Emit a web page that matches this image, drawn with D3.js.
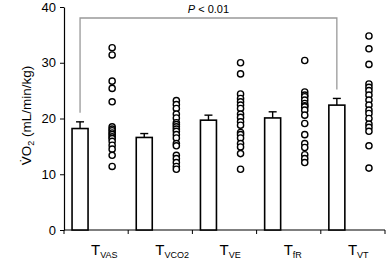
<!DOCTYPE html>
<html>
<head>
<meta charset="utf-8">
<script src="https://cdn.jsdelivr.net/npm/d3@7"></script>
<style>
  body { margin: 0; background: #fff; }
  svg { display: block; font-family: "Liberation Sans", Arial, sans-serif; }
</style>
</head>
<body>
<div id="chart"></div>
<script>
// Dữ liệu
const groups = ["VAS", "VCO2", "VE", "fR", "VT"];
const means  = [18.2, 16.6, 19.7, 20.1, 22.4];
const sems   = [1.2, 0.7, 0.9, 1.1, 1.2];
const points = [
  [32.7, 31.4, 26.7, 25.4, 23.0, 18.5, 18.1, 17.8, 17.4, 17.1, 16.7, 16.4, 15.9, 15.2, 14.5, 13.4, 11.4],
  [23.2, 22.5, 21.8, 20.8, 20.1, 19.25, 18.9, 18.5, 18.1, 17.7, 17.1, 16.5, 15.5, 15.1, 13.4, 12.8, 12.1, 11.4, 10.9],
  [30.0, 28.0, 24.4, 23.6, 23.0, 22.4, 21.8, 20.8, 20.2, 19.4, 18.8, 17.5, 17.1, 16.5, 15.5, 14.9, 13.7, 10.9],
  [30.4, 24.75, 24.2, 23.9, 23.3, 22.7, 22.3, 22.1, 21.5, 20.6, 19.1, 17.1, 15.5, 14.8, 13.5, 12.8, 12.1],
  [34.8, 32.5, 29.7, 26.2, 25.6, 25.0, 24.2, 23.3, 22.4, 21.5, 20.9, 20.0, 19.0, 18.4, 17.7, 15.1, 11.1]
];
const yTicks = [0, 10, 20, 30, 40];
const pLabel = "< 0.01";

// Kích thước
const W = 386, H = 262;
const margin = { top: 7, right: 1, bottom: 32, left: 64 };
const width = W - margin.left - margin.right,
      height = H - margin.top - margin.bottom;

const svg = d3.select("#chart").append("svg")
    .attr("width", W).attr("height", H)
  .append("g")
    .attr("transform", `translate(${margin.left},${margin.top})`);

const x = d3.scaleBand().domain(groups).range([0, width]).padding(0);
const y = d3.scaleLinear().domain([0, 40]).range([height, 0]);
const off = x.bandwidth() / 4;   // bar trái, chấm phải
const barW = 16;

// Trục Y
const yAxis = svg.append("g")
  .call(d3.axisLeft(y).tickValues(yTicks).tickSize(4).tickSizeOuter(0).tickPadding(4));
yAxis.selectAll("text").style("font-size", "13px").attr("fill", "#000");
yAxis.select(".domain").attr("stroke", "#000").attr("stroke-width", 1.2);

// Trục X (tick ở ranh giới nhóm)
const xg = svg.append("g").attr("transform", `translate(0,${height})`);
xg.append("line").attr("x1", 0).attr("x2", width).attr("stroke", "#000").attr("stroke-width", 1.2);
xg.selectAll("line.tk")
  .data(d3.range(groups.length + 1))
  .enter().append("line")
    .attr("class", "tk")
    .attr("x1", i => i * x.step()).attr("x2", i => i * x.step())
    .attr("y1", 0).attr("y2", 4)
    .attr("stroke", "#000").attr("stroke-width", 1);

const lbl = xg.selectAll("text.lbl")
  .data(groups)
  .enter().append("text")
    .attr("class", "lbl")
    .attr("x", d => x(d) + x.bandwidth() / 2 - 5)
    .attr("y", 25)
    .style("font-size", "15px");
lbl.append("tspan").text("T");
lbl.append("tspan").attr("dy", 3).style("font-size", "9px").text(d => d);

// Cột
svg.selectAll("rect.bar")
  .data(groups)
  .enter().append("rect")
    .attr("class", "bar")
    .attr("x", d => x(d) + off - barW / 2)
    .attr("y", (d, i) => y(means[i]))
    .attr("width", barW)
    .attr("height", (d, i) => height - y(means[i]))
    .attr("fill", "#fff").attr("stroke", "#000").attr("stroke-width", 1.6);

// Error bar (chỉ phía trên)
groups.forEach((g, i) => {
  const cx = x(g) + off;
  svg.append("line")
    .attr("x1", cx).attr("x2", cx)
    .attr("y1", y(means[i])).attr("y2", y(means[i] + sems[i]))
    .attr("stroke", "#000").attr("stroke-width", 1.4);
  svg.append("line")
    .attr("x1", cx - 4).attr("x2", cx + 4)
    .attr("y1", y(means[i] + sems[i])).attr("y2", y(means[i] + sems[i]))
    .attr("stroke", "#000").attr("stroke-width", 1.4);
});

// Chấm
groups.forEach((g, i) => {
  svg.selectAll(null)
    .data(points[i])
    .enter().append("circle")
      .attr("cx", x(g) + 3 * off)
      .attr("cy", d => y(d))
      .attr("r", 3.1)
      .attr("fill", "#fff").attr("stroke", "#000").attr("stroke-width", 1.4);
});

// Bracket P < 0.01
const x0 = x(groups[0]) + off, x1 = x(groups[4]) + off;
const yTop = y(40) + 11;
svg.append("path")
  .attr("d", `M${x0},${y(means[0] + sems[0]) - 9}V${yTop}H${x1}V${y(means[4] + sems[4]) - 9}`)
  .attr("fill", "none").attr("stroke", "#999").attr("stroke-width", 1.3);
const pt = svg.append("text")
  .attr("x", (x0 + x1) / 2).attr("y", yTop - 5)
  .attr("text-anchor", "middle")
  .style("font-size", "11px");
pt.append("tspan").style("font-style", "italic").text("P");
pt.append("tspan").text(" " + pLabel);

// Nhãn trục Y
const yl = svg.append("text")
  .attr("transform", `translate(${-33},${height / 2 - 3}) rotate(-90)`)
  .attr("text-anchor", "middle")
  .style("font-size", "13.5px");
yl.append("tspan").text("V\u0307O");
yl.append("tspan").attr("dy", 3).style("font-size", "9px").text("2");
yl.append("tspan").attr("dy", -3).text(" (mL/min/kg)");
</script>
</body>
</html>
